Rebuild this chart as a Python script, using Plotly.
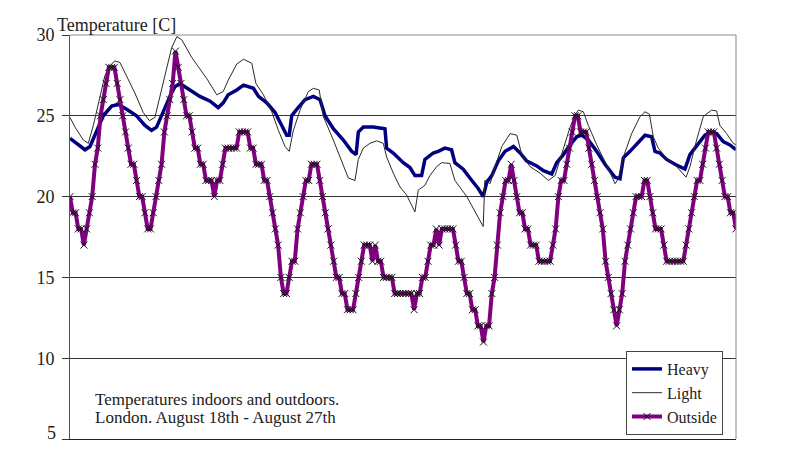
import plotly.graph_objects as go

# ---------------- data ----------------
# Outside temperature, hourly (hour 0 .. 240), Aug 18th - Aug 27th
outside_temp = [
    20, 19, 19, 18, 18, 17, 18, 19, 20, 22,
    23, 25, 26, 27, 28, 28, 28, 27, 26, 25,
    24, 23, 22, 22, 21, 20, 20, 19, 18, 18,
    19, 20, 21, 22, 24, 25, 26, 27, 29, 28,
    27, 26, 25, 25, 24, 23, 23, 22, 22, 21,
    21, 21, 20, 21, 21, 22, 23, 23, 23, 23,
    23, 24, 24, 24, 24, 23, 23, 22, 22, 22,
    21, 21, 20, 19, 18, 17, 15, 14, 14, 15,
    16, 16, 18, 19, 20, 21, 21, 22, 22, 22,
    21, 20, 19, 18, 17, 16, 15, 15, 14, 14,
    13, 13, 13, 14, 15, 16, 17, 17, 17, 16,
    17, 16, 16, 15, 15, 15, 15, 14, 14, 14,
    14, 14, 14, 14, 13, 14, 14, 15, 15, 16,
    17, 17, 18, 17, 18, 18, 18, 18, 18, 17,
    16, 16, 15, 14, 14, 13, 13, 12, 12, 11,
    12, 12, 14, 15, 17, 19, 20, 21, 21, 22,
    21, 20, 19, 19, 18, 18, 17, 17, 17, 16,
    16, 16, 16, 16, 17, 18, 20, 21, 21, 22,
    23, 24, 25, 25, 24, 24, 24, 23, 22, 21,
    20, 19, 18, 16, 15, 14, 13, 12, 13, 14,
    16, 17, 18, 19, 20, 20, 20, 21, 21, 20,
    19, 18, 18, 18, 17, 16, 16, 16, 16, 16,
    16, 16, 17, 18, 19, 20, 21, 21, 22, 23,
    24, 24, 24, 23, 22, 21, 20, 20, 19, 19,
    18,
]
outside_hours = list(range(len(outside_temp)))

# Heavy building indoor temperature
heavy_hours = [
    0, 2.4, 5.4, 7.2, 9.6, 12.0, 15.0, 17.4, 20.4, 24.0, 27.0, 29.4, 31.2, 33.6,
    36.0, 37.8, 39.6, 41.4, 43.9, 46.8, 50.5, 53.4, 55.2, 57.0, 60.1, 62.5, 66.1,
    67.9, 70.9, 73.9, 76.3, 78.1, 79.0, 79.9, 81.7, 84.7, 87.7, 90.1, 91.9, 94.9,
    98.5, 101.5, 103.1, 103.9, 105.7, 109.3, 113.5, 114.1, 116.5, 120.1, 122.5,
    124.3, 126.7, 127.9, 130.9, 132.7, 135.1, 137.5, 138.7, 141.7, 144.8, 147.1,
    148.9, 150.2, 152.0, 154.3, 156.8, 159.8, 162.2, 164.6, 168.2, 170.6, 173.6,
    175.4, 177.8, 180.2, 182.6, 184.4, 186.8, 189.8, 192.8, 196.4, 198.2, 199.4,
    201.8, 205.4, 207.2, 209.6, 210.8, 212.6, 215.0, 218.0, 221.6, 223.4, 225.8,
    228.8, 231.2, 233.0, 235.4, 237.8, 240,
]
heavy_temp = [
    23.6, 23.3, 22.9, 23.1, 24.1, 25.0, 25.6, 25.7, 25.4, 25.0, 24.4, 24.1, 24.3, 25.3,
    26.2, 26.8, 27.0, 26.8, 26.5, 26.2, 25.9, 25.5, 25.8, 26.3, 26.6, 26.9, 26.7,
    26.2, 25.8, 25.2, 24.4, 23.8, 23.8, 25.0, 25.4, 26.0, 26.2, 26.0, 25.0, 24.2,
    23.5, 22.8, 22.6, 24.0, 24.3, 24.3, 24.2, 23.0, 22.7, 22.1, 21.8,
    21.3, 21.3, 22.3, 22.7, 22.8, 23.0, 22.9, 22.1, 21.7, 21.0, 20.5,
    20.0, 20.9, 21.3, 22.2, 22.8, 23.1, 22.7, 22.2, 21.9, 21.6, 21.4,
    22.1, 22.6, 23.2, 23.7, 23.8, 23.5, 22.8, 22.0, 21.2, 21.1, 22.4,
    22.8, 23.5, 23.8, 23.7, 22.8, 22.7, 22.3, 22.0, 21.7, 22.6, 23.1,
    23.8, 24.0, 23.9, 23.4, 23.2, 22.9,
]

# Light building indoor temperature
light_hours = [
    0, 1.8, 4.8, 6.6, 8.4, 10.8, 12.6, 14.4, 16.2, 18.0, 20.4, 23.4, 26.4, 28.6,
    30.6, 32.4, 34.2, 36.6, 38.5, 40.3, 43.9, 49.3, 52.9, 55.2, 57.0, 60.1, 62.5,
    65.5, 67.0, 69.7, 72.7, 75.1, 77.5, 79.0, 80.5, 82.9, 85.9, 87.7, 89.8, 91.3,
    94.9, 97.9, 100.3, 102.7, 103.9, 105.7, 108.1, 110.5, 112.9, 114.1, 116.5,
    118.9, 121.3, 124.3, 125.5, 127.9, 129.7, 132.1, 133.9, 136.9, 138.7, 143.0,
    146.6, 148.9, 149.5, 151.4, 153.2, 155.6, 158.6, 161.0, 162.8, 165.8, 169.4,
    172.4, 174.8, 177.8, 180.2, 182.0, 183.2, 185.0, 186.8, 189.8, 193.4, 196.4,
    197.6, 199.4, 202.4, 205.4, 207.2, 208.8, 210.2, 212.0, 215.0, 218.6, 222.0,
    223.4, 225.8, 228.2, 231.2, 233.0, 234.2, 236.6, 239.0, 240,
]
light_temp = [
    24.9, 24.3, 23.5, 23.3, 24.4, 26.2, 27.5, 28.1, 28.4, 28.3, 27.5, 26.4, 25.2, 24.7,
    24.9, 26.2, 27.6, 29.2, 29.9, 29.7, 28.6, 27.3, 26.3, 26.5, 27.2, 28.2, 28.5,
    28.25, 27.0, 26.3, 25.25, 24.1, 23.1, 22.8, 24.1, 25.35, 26.5, 26.7, 26.6, 24.95,
    23.5, 22.15, 21.15, 21.0, 22.3, 23.0, 23.3, 23.45, 23.3, 22.45, 21.45,
    20.6, 20.1, 19.05, 20.4, 20.7, 21.3, 21.85, 22.1, 22.05, 21.0, 20.0,
    18.9, 18.15, 21.0, 20.8, 21.85, 23.1, 23.9, 23.8, 22.6, 21.85, 21.45,
    21.0, 21.3, 23.0, 24.3, 25.05, 25.35, 25.25, 24.4, 23.2, 21.95, 20.8,
    21.1, 22.45, 23.9, 24.95, 25.25, 25.1, 23.7, 23.0, 22.35, 21.85, 21.2,
    21.85, 23.5, 24.95, 25.35, 25.3, 24.4, 23.9, 23.3, 23.2,
]

y_ticks = [5, 10, 15, 20, 25, 30]
y_tick_labels = [str(v) for v in y_ticks]
series_names = ["Heavy", "Light", "Outside"]
axis_title = "Temperature [C]"
note_lines = ["Temperatures indoors and outdoors.", "London. August 18th - August 27th"]

# ---------------- figure ----------------
FONT = "Liberation Serif, Times New Roman, serif"
TXT = "#222222"

fig = go.Figure()
fig.add_trace(go.Scatter(
    x=heavy_hours, y=heavy_temp, name=series_names[0], mode="lines",
    line=dict(color="#000080", width=3.5),
))
fig.add_trace(go.Scatter(
    x=light_hours, y=light_temp, name=series_names[1], mode="lines",
    line=dict(color="#2a2a2a", width=1),
))
fig.add_trace(go.Scatter(
    x=outside_hours, y=outside_temp, name=series_names[2], mode="lines+markers",
    line=dict(color="#800080", width=4),
    marker=dict(symbol="x-thin", size=7, color="#111111",
                line=dict(color="#111111", width=1)),
))

# The page body has an 8px margin; size the figure so the plot area lands
# at x 70..736 and y 35..439 of the 787x453 window.
OFF = 8
W, H = 787 - 2 * OFF, 453 - 2 * OFF
PL, PR, PT, PB = 70, 736, 35, 439          # plot area in window pixels
ml, mr, mt, mb = PL - OFF, OFF + W - PR, PT - OFF, OFF + H - PB
pw, ph = PR - PL, PB - PT


def px(x):
    return (x - PL) / pw


def py(y):
    return (PB - y) / ph


# the lowest tick label sits on the figure's bottom edge, so it is drawn as
# an annotation lifted just enough to stay whole
axis_labels = [t if v != y_ticks[0] else "" for v, t in zip(y_ticks, y_tick_labels)]

fig.update_layout(
    width=W, height=H,
    margin=dict(l=ml, r=mr, t=mt, b=mb, pad=0, autoexpand=False),
    paper_bgcolor="white", plot_bgcolor="white",
    font=dict(family=FONT, size=16, color=TXT),
    showlegend=True,
    legend=dict(
        x=px(626), y=py(351), xanchor="left", yanchor="top",
        bgcolor="white", bordercolor="#444444", borderwidth=1,
        font=dict(family=FONT, size=16, color=TXT),
        tracegroupgap=0, itemwidth=30,
    ),
    xaxis=dict(
        range=[0, 240], showticklabels=False, ticks="", showgrid=False,
        zeroline=False, showline=True, linecolor="#222222", linewidth=1,
        fixedrange=True, automargin=False,
    ),
    yaxis=dict(
        range=[5, 30], tickvals=y_ticks, ticktext=axis_labels,
        ticks="outside", ticklen=7,
        tickcolor="#333333", tickwidth=1, showgrid=True, gridcolor="#333333",
        gridwidth=1, zeroline=False, showline=True, linecolor="#555555",
        linewidth=1, tickfont=dict(family=FONT, size=18, color=TXT),
        ticklabelstandoff=4, fixedrange=True, automargin=False,
    ),
    shapes=[
        dict(type="path", xref="paper", yref="paper",
             path="M 0,1 L 1,1 L 1,0", line=dict(color="#888888", width=1),
             layer="above"),
    ],
    annotations=[
        dict(text=axis_title, xref="paper", yref="paper",
             x=px(55), y=py(25), xanchor="left", yanchor="middle",
             showarrow=False, font=dict(family=FONT, size=18, color=TXT)),
        dict(text=note_lines[0], xref="paper", yref="paper",
             x=px(93), y=py(399), xanchor="left", yanchor="middle",
             showarrow=False, font=dict(family=FONT, size=17, color=TXT)),
        dict(text=note_lines[1], xref="paper", yref="paper",
             x=px(93), y=py(417), xanchor="left", yanchor="middle",
             showarrow=False, font=dict(family=FONT, size=17, color=TXT)),
        dict(text=y_tick_labels[0], xref="paper", yref="paper",
             x=px(57), y=py(444.5), xanchor="right", yanchor="bottom",
             borderpad=0, showarrow=False,
             font=dict(family=FONT, size=18, color=TXT)),
    ],
)

fig.write_html("out.html")
